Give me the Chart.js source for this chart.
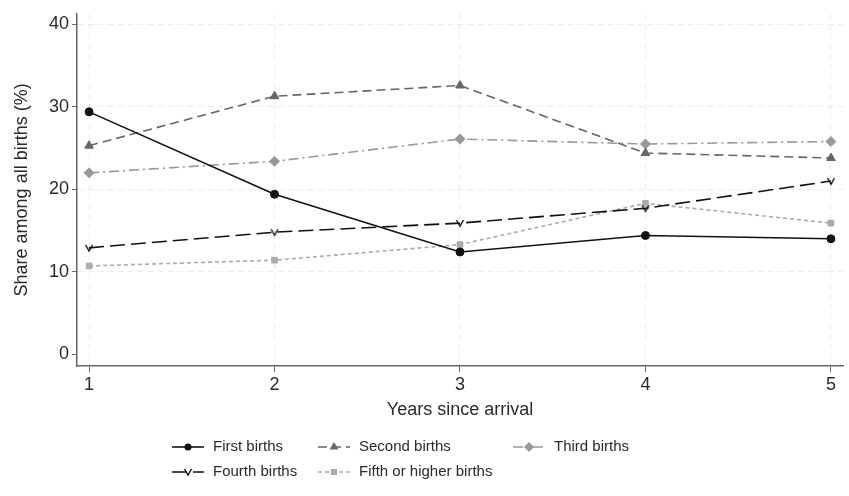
<!DOCTYPE html>
<html>
<head>
<meta charset="utf-8">
<script src="https://cdn.jsdelivr.net/npm/chart.js@4"></script>
<style>
  html, body { margin: 0; padding: 0; background: #fff; }
  #wrap { width: 849px; height: 496px; }
</style>
</head>
<body>
<div id="wrap"><canvas id="chart" width="849" height="496"></canvas></div>
<script>
const years = [1, 2, 3, 4, 5];
const yTicks = [0, 10, 20, 30, 40];
const firstBirths = [29.4, 19.4, 12.4, 14.4, 14.0];
const secondBirths = [25.3, 31.3, 32.6, 24.4, 23.8];
const thirdBirths = [22.0, 23.4, 26.1, 25.5, 25.8];
const fourthBirths = [12.9, 14.8, 15.9, 17.7, 21.0];
const fifthBirths = [10.7, 11.4, 13.3, 18.3, 15.9];
const seriesNames = ['First births', 'Second births', 'Third births', 'Fourth births', 'Fifth or higher births'];

const FONT = '"Liberation Sans", Arial, sans-serif';

// "v" marker like stata's V symbol
function makeVee(size, color) {
  const c = document.createElement('canvas');
  c.width = size; c.height = size;
  const g = c.getContext('2d');
  g.strokeStyle = color;
  g.lineWidth = 1.4;
  g.beginPath();
  g.moveTo(1.5, 2);
  g.lineTo(size / 2, size - 2);
  g.lineTo(size - 1.5, 2);
  g.stroke();
  return c;
}
const vee = makeVee(10, '#111');

function pts(vals) {
  return vals.map((v, i) => ({ x: years[i], y: v }));
}

const datasets = [
  { label: seriesNames[0], data: pts(firstBirths), borderColor: '#111', backgroundColor: '#111',
    borderDash: [], pointStyle: 'circle', pointRadius: 4 },
  { label: seriesNames[1], data: pts(secondBirths), borderColor: '#666', backgroundColor: '#666',
    borderDash: [9, 5], pointStyle: 'triangle', pointRadius: 5 },
  { label: seriesNames[2], data: pts(thirdBirths), borderColor: '#999', backgroundColor: '#999',
    borderDash: [10, 4, 2, 4], pointStyle: 'rectRot', pointRadius: 5 },
  { label: seriesNames[3], data: pts(fourthBirths), borderColor: '#111', backgroundColor: '#111',
    borderDash: [15, 6], pointStyle: vee, pointRadius: 5 },
  { label: seriesNames[4], data: pts(fifthBirths), borderColor: '#aaa', backgroundColor: '#aaa',
    borderDash: [4, 3], pointStyle: 'rect', pointRadius: 4 }
];
datasets.forEach(d => {
  d.borderWidth = 1.6;
  d.pointBorderWidth = 1;
  d.pointHoverRadius = d.pointRadius;
  d.tension = 0;
  d.fill = false;
});

function drawMarker(ctx, ds, x, y) {
  const r = ds.pointRadius;
  ctx.save();
  ctx.fillStyle = ds.backgroundColor;
  ctx.setLineDash([]);
  if (ds.pointStyle === 'circle') {
    ctx.beginPath(); ctx.arc(x, y, r - 0.5, 0, Math.PI * 2); ctx.fill();
  } else if (ds.pointStyle === 'triangle') {
    ctx.beginPath();
    ctx.moveTo(x, y - r); ctx.lineTo(x + r * 0.87, y + r * 0.5); ctx.lineTo(x - r * 0.87, y + r * 0.5);
    ctx.closePath(); ctx.fill();
  } else if (ds.pointStyle === 'rectRot') {
    ctx.beginPath();
    ctx.moveTo(x, y - r); ctx.lineTo(x + r, y); ctx.lineTo(x, y + r); ctx.lineTo(x - r, y);
    ctx.closePath(); ctx.fill();
  } else if (ds.pointStyle === 'rect') {
    ctx.fillRect(x - r * 0.75, y - r * 0.75, r * 1.5, r * 1.5);
  } else {
    ctx.drawImage(ds.pointStyle, x - ds.pointStyle.width / 2, y - ds.pointStyle.height / 2);
  }
  ctx.restore();
}

const extras = {
  id: 'extras',
  afterDraw(chart) {
    const ctx = chart.ctx;
    const area = chart.chartArea;
    ctx.save();
    ctx.fillStyle = '#2a2a2a';
    ctx.font = '18px ' + FONT;
    ctx.textAlign = 'center';
    ctx.textBaseline = 'middle';
    ctx.fillText('Years since arrival', (area.left + area.right) / 2, 410);
    ctx.save();
    ctx.translate(22, (area.top + area.bottom) / 2);
    ctx.rotate(-Math.PI / 2);
    ctx.fillText('Share among all births (%)', 0, 0);
    ctx.restore();

    // legend, 3 columns
    ctx.font = '15px ' + FONT;
    const cols = [172, 318, 513];
    const rows = [447, 472];
    chart.data.datasets.forEach((ds, i) => {
      const x0 = cols[i % 3];
      const y0 = rows[Math.floor(i / 3)];
      ctx.save();
      ctx.strokeStyle = ds.borderColor;
      ctx.lineWidth = ds.borderWidth;
      ctx.setLineDash(ds.borderDash);
      ctx.beginPath();
      ctx.moveTo(x0, y0); ctx.lineTo(x0 + 32, y0);
      ctx.stroke();
      ctx.restore();
      drawMarker(ctx, ds, x0 + 16, y0);
      ctx.fillStyle = '#2a2a2a';
      ctx.textAlign = 'left';
      ctx.fillText(ds.label, x0 + 41, y0);
    });
    ctx.restore();
  }
};

new Chart(document.getElementById('chart'), {
  type: 'line',
  data: { datasets },
  plugins: [extras],
  options: {
    responsive: false,
    animation: false,
    layout: { padding: { top: 10, right: 4, left: 0, bottom: 0 } },
    plugins: { legend: { display: false }, tooltip: { enabled: false } },
    scales: {
      x: {
        type: 'linear',
        min: 0.935,
        max: 5.065,
        afterBuildTicks: s => { s.ticks = years.map(v => ({ value: v })); },
        afterFit: s => { s.height = 130; },
        ticks: { color: '#2a2a2a', font: { family: FONT, size: 18 }, padding: 2, autoSkip: false, maxRotation: 0,
          callback: v => String(v) },
        grid: { color: '#ececec', tickColor: '#666', tickLength: 6, lineWidth: 1 },
        border: { color: '#666', width: 1.5, dash: [6, 4] }
      },
      y: {
        min: -1.44,
        max: 41.3,
        afterBuildTicks: s => { s.ticks = yTicks.map(v => ({ value: v })); },
        afterFit: s => { s.width = 77; },
        ticks: { color: '#2a2a2a', font: { family: FONT, size: 18 }, padding: 3, autoSkip: false,
          callback: v => String(v) },
        grid: { color: ctx => (ctx.tick && ctx.tick.value === 0 ? 'rgba(0,0,0,0)' : '#ececec'),
          tickColor: '#666', tickLength: 5, lineWidth: 1 },
        border: { color: '#666', width: 1.5, dash: [6, 4] }
      }
    }
  }
});
</script>
</body>
</html>
